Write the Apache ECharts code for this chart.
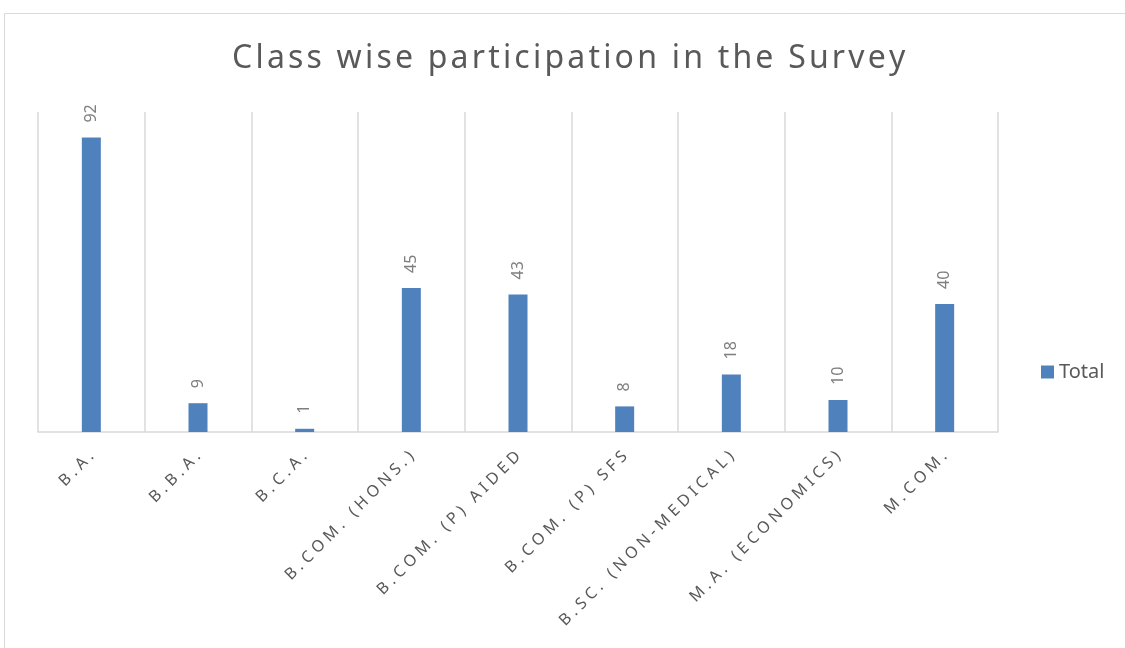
<!DOCTYPE html>
<html>
<head>
<meta charset="utf-8">
<style>
  html, body { margin: 0; padding: 0; background: #fff; }
  #main { width: 1125px; height: 648px; }
</style>
<script src="https://cdn.jsdelivr.net/npm/echarts@6/dist/echarts.min.js"></script>
</head>
<body>
<div id="main"></div>
<script>
// data
const titleText = 'Class wise participation in the Survey';
const classes = ['B.A.', 'B.B.A.', 'B.C.A.', 'B.COM. (HONS.)', 'B.COM. (P) AIDED',
  'B.COM. (P) SFS', 'B.SC. (NON-MEDICAL)', 'M.A. (ECONOMICS)', 'M.COM.'];
const totals = [92, 9, 1, 45, 43, 8, 18, 10, 40];
const seriesName = 'Total';

// spread letters out a bit, like the office chart does
function spaced(s, gap) {
  return s.split('').join(gap);
}

const myChart = echarts.init(document.getElementById('main'));
const option = {
  animation: false,
  backgroundColor: '#fff',
  graphic: [{
    type: 'rect',
    shape: { x: 4.5, y: 13.5, width: 1200, height: 700 },
    style: { fill: 'none', stroke: '#d9d9d9', lineWidth: 1 },
    silent: true
  }],
  title: {
    text: spaced(titleText, '\u200a'),
    left: 232,
    top: 43,
    padding: 0,
    textStyle: {
      fontFamily: 'Noto Sans',
      fontSize: 32,
      fontWeight: 'normal',
      color: '#595959'
    }
  },
  legend: {
    data: [seriesName],
    orient: 'vertical',
    left: 1036,
    top: 357,
    itemWidth: 13,
    itemHeight: 13,
    itemGap: 6,
    textStyle: { fontFamily: 'Noto Sans', fontSize: 20, color: '#595959' },
    icon: 'rect'
  },
  grid: { left: 38, right: 127, top: 112, bottom: 216, containLabel: false },
  xAxis: {
    type: 'category',
    data: classes,
    axisLine: { lineStyle: { color: '#d9d9d9', width: 1.5 } },
    axisTick: { show: false },
    splitLine: { show: true, lineStyle: { color: '#d9d9d9', width: 1.5 } },
    axisLabel: {
      rotate: 45,
      margin: 22,
      interval: 0,
      fontFamily: 'Noto Sans',
      fontSize: 16,
      color: '#595959',
      formatter: v => spaced(v, '\u2009\u200a')
    }
  },
  yAxis: {
    type: 'value',
    min: 0,
    max: 100,
    show: false,
    splitLine: { show: false }
  },
  series: [{
    name: seriesName,
    type: 'bar',
    data: totals,
    barWidth: 19,
    itemStyle: { color: '#4f81bd' },
    label: {
      show: true,
      position: 'top',
      rotate: 90,
      align: 'left',
      verticalAlign: 'middle',
      distance: 15,
      fontFamily: 'Noto Sans',
      fontSize: 16,
      color: '#7f7f7f'
    }
  }]
};
myChart.setOption(option);
window.onresize = function () {
  myChart.resize();
};
</script>
</body>
</html>
